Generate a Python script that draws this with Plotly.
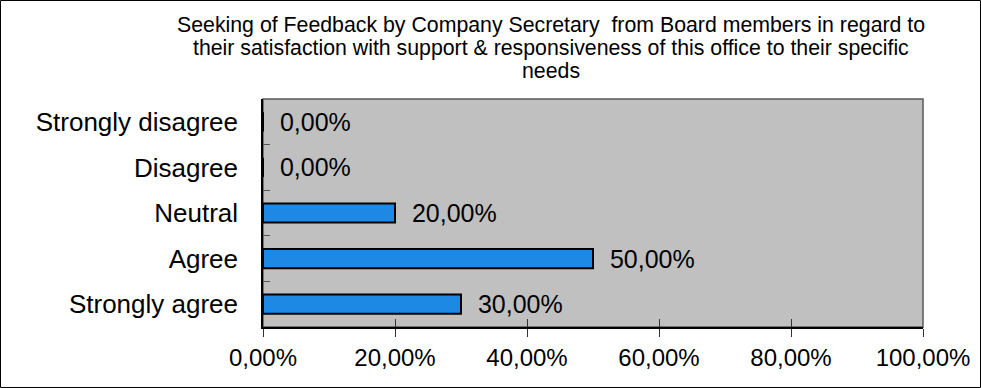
import plotly.graph_objects as go

# Survey responses (share of board members)
categories = ["Strongly disagree", "Disagree", "Neutral", "Agree", "Strongly agree"]
shares = [0.0, 0.0, 0.20, 0.50, 0.30]
x_ticks = [0, 0.2, 0.4, 0.6, 0.8, 1.0]

title_lines = [
    "Seeking of Feedback by Company Secretary  from Board members in regard to",
    "their satisfaction with support &amp; responsiveness of this office to their specific",
    "needs",
]

W, H = 981, 388
L, R, T, B = 263, 58, 99, 61
FONT = "Liberation Sans, Arial, sans-serif"

fig = go.Figure()
fig.add_trace(go.Bar(
    x=shares, y=categories, orientation="h",
    width=0.42,
    marker=dict(color="#1e88e5", line=dict(color="#000000", width=2)),
    texttemplate="\u00a0\u00a0%{x:.2%}",
    textposition="outside",
    constraintext="none",
    textfont=dict(family=FONT, size=25, color="#000000"),
    cliponaxis=False,
    hoverinfo="skip",
))
# invisible copy on the overlay axis that carries the inner half of the x ticks
fig.add_trace(go.Bar(
    x=shares, y=categories, orientation="h", xaxis="x2",
    opacity=0, hoverinfo="skip", showlegend=False,
))

pw = W - L - R
ph = H - T - B


def py(pix):
    """Pixel row measured from the top of the page -> paper y."""
    return 1 + (T - pix) / ph


fig.add_shape(type="rect", xref="paper", yref="paper",
              x0=0, x1=1, y0=0, y1=1,
              line=dict(color="#5a5a5a", width=1.5), layer="below")
# outer frame of the chart
fig.add_shape(type="rect", xref="paper", yref="paper",
              x0=-(L - 0.5) / pw, x1=1 + (R - 0.5) / pw,
              y0=-(B - 0.5) / ph, y1=1 + (T - 0.5) / ph,
              line=dict(color="#000000", width=1))

# chart title, one annotation per line for tight line spacing
for i, line in enumerate(title_lines):
    fig.add_annotation(text=line, xref="paper", yref="paper",
                       x=(551 - L) / pw, y=py(24.5 + 23 * i),
                       xanchor="center", yanchor="middle", showarrow=False,
                       font=dict(family=FONT, size=21.3, color="#000000"))

fig.update_layout(
    width=W, height=H,
    margin=dict(l=L, r=R, t=T, b=B, pad=0),
    paper_bgcolor="#ffffff",
    plot_bgcolor="#c0c0c0",
    separators=",.",
    showlegend=False,
    font=dict(family=FONT, color="#000000"),
    xaxis=dict(range=[0, 1], tickvals=x_ticks, tickformat=".2%",
               showgrid=False, zeroline=False,
               showline=True, linecolor="#000000", linewidth=1.5,
               ticks="outside", ticklen=8, tickcolor="#333333", tickwidth=1.2,
               tickfont=dict(family=FONT, size=24, color="#000000"),
               fixedrange=True),
    xaxis2=dict(range=[0, 1], tickvals=x_ticks, overlaying="x", anchor="y",
                side="bottom", showticklabels=False, showgrid=False,
                zeroline=False, showline=False,
                ticks="inside", ticklen=8, tickcolor="#333333", tickwidth=1.2,
                fixedrange=True),
    yaxis=dict(autorange="reversed", type="category",
               showgrid=False, zeroline=False,
               showline=True, linecolor="#000000", linewidth=1.5,
               ticks="inside", tickson="boundaries", ticklen=7,
               tickcolor="#555555", tickwidth=1.2,
               ticklabelstandoff=18,
               tickfont=dict(family=FONT, size=26, color="#000000"),
               fixedrange=True),
)

fig.write_html("out.html", config={"displayModeBar": False})
